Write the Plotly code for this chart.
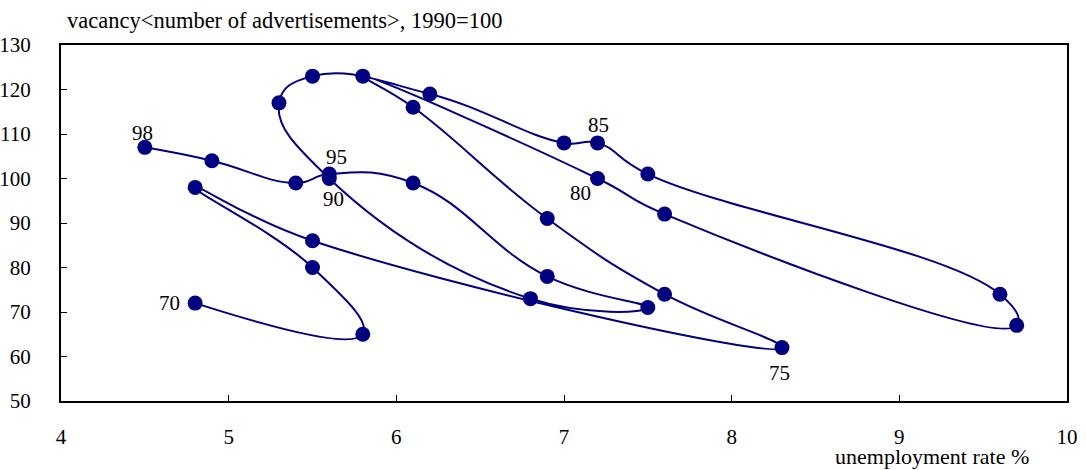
import plotly.graph_objects as go

years = list(range(1970, 1999))
unemployment = [4.8, 5.8, 5.5, 4.8, 5.5, 8.3, 7.6, 6.9, 6.1, 5.8,
                7.2, 7.6, 9.7, 9.6, 7.5, 7.2, 7.0, 6.2, 5.5, 5.3,
                5.6, 6.8, 7.5, 6.9, 6.1, 5.6, 5.4, 4.9, 4.5]
vacancy = [72, 65, 80, 98, 86, 62, 74, 91, 116, 123,
           100, 92, 67, 74, 101, 108, 108, 119, 123, 117,
           100, 73, 71, 78, 99, 101, 99, 104, 107]

labelled_years = [1970, 1975, 1980, 1985, 1990, 1995, 1998]
label_texts = ["70", "75", "80", "85", "90", "95", "98"]
# pixel offsets for label placement (style only)
label_offsets = {1970: (-26, 0), 1975: (-2, -25), 1980: (-17, -14), 1985: (1, 18),
                 1990: (4, -20), 1995: (7, 17), 1998: (-2, 14)}

x_ticks = [4, 5, 6, 7, 8, 9, 10]
y_ticks = [50, 60, 70, 80, 90, 100, 110, 120, 130]

NAVY = "#000080"
FONT = "Liberation Serif"

fig = go.Figure()
fig.add_trace(go.Scatter(
    x=unemployment, y=vacancy, mode="lines+markers",
    line=dict(color=NAVY, width=2, shape="spline", smoothing=1.3),
    marker=dict(color=NAVY, size=15),
    hoverinfo="skip", showlegend=False,
))

for yr, txt in zip(labelled_years, label_texts):
    i = years.index(yr)
    dx, dy = label_offsets[yr]
    fig.add_annotation(x=unemployment[i], y=vacancy[i], text=txt, showarrow=False,
                       xshift=dx, yshift=dy, font=dict(family=FONT, size=21, color="black"))

W, H = 1086, 470
L, R, T, B = 61, 1067, 44.5, 401.5
ml, mr, mt, mb = L, W - R, T, H - B

def px_to_paper(px, py):
    return (px - L) / (R - L), (B - py) / (B - T)

tx, ty = px_to_paper(65, 20)
fig.add_annotation(x=tx, y=ty, xref="paper", yref="paper", xanchor="left", yanchor="middle",
                   text="vacancy&lt;number of advertisements&gt;, 1990=100", showarrow=False,
                   font=dict(family=FONT, size=22.5, color="black"))
ax, ay = px_to_paper(1031, 457)
fig.add_annotation(x=ax, y=ay, xref="paper", yref="paper", xanchor="right", yanchor="middle",
                   text="unemployment rate %", showarrow=False,
                   font=dict(family=FONT, size=22, color="black"))

fig.update_layout(
    width=W, height=H,
    margin=dict(l=ml, r=mr, t=mt, b=mb, pad=0),
    paper_bgcolor="white", plot_bgcolor="white",
    font=dict(family=FONT, size=21, color="black"),
    xaxis=dict(range=[4, 10], tickvals=x_ticks, ticktext=[str(v) for v in x_ticks],
               showgrid=False, zeroline=False, showline=True, linecolor="black", linewidth=2,
               mirror=True, ticks="inside", ticklen=6, tickwidth=1, tickcolor="black",
               ticklabelstandoff=16, automargin=False,
               tickfont=dict(family=FONT, size=21, color="black")),
    yaxis=dict(range=[50, 130], tickvals=y_ticks, ticktext=[str(v) for v in y_ticks],
               showgrid=False, zeroline=False, showline=True, linecolor="black", linewidth=2,
               mirror=True, ticks="inside", ticklen=6, tickwidth=1, tickcolor="black",
               ticklabelstandoff=24, automargin=False,
               tickfont=dict(family=FONT, size=21, color="black")),
)

fig.write_html("out.html", config={"displayModeBar": False},
               post_script="document.body.style.margin='0px';")
